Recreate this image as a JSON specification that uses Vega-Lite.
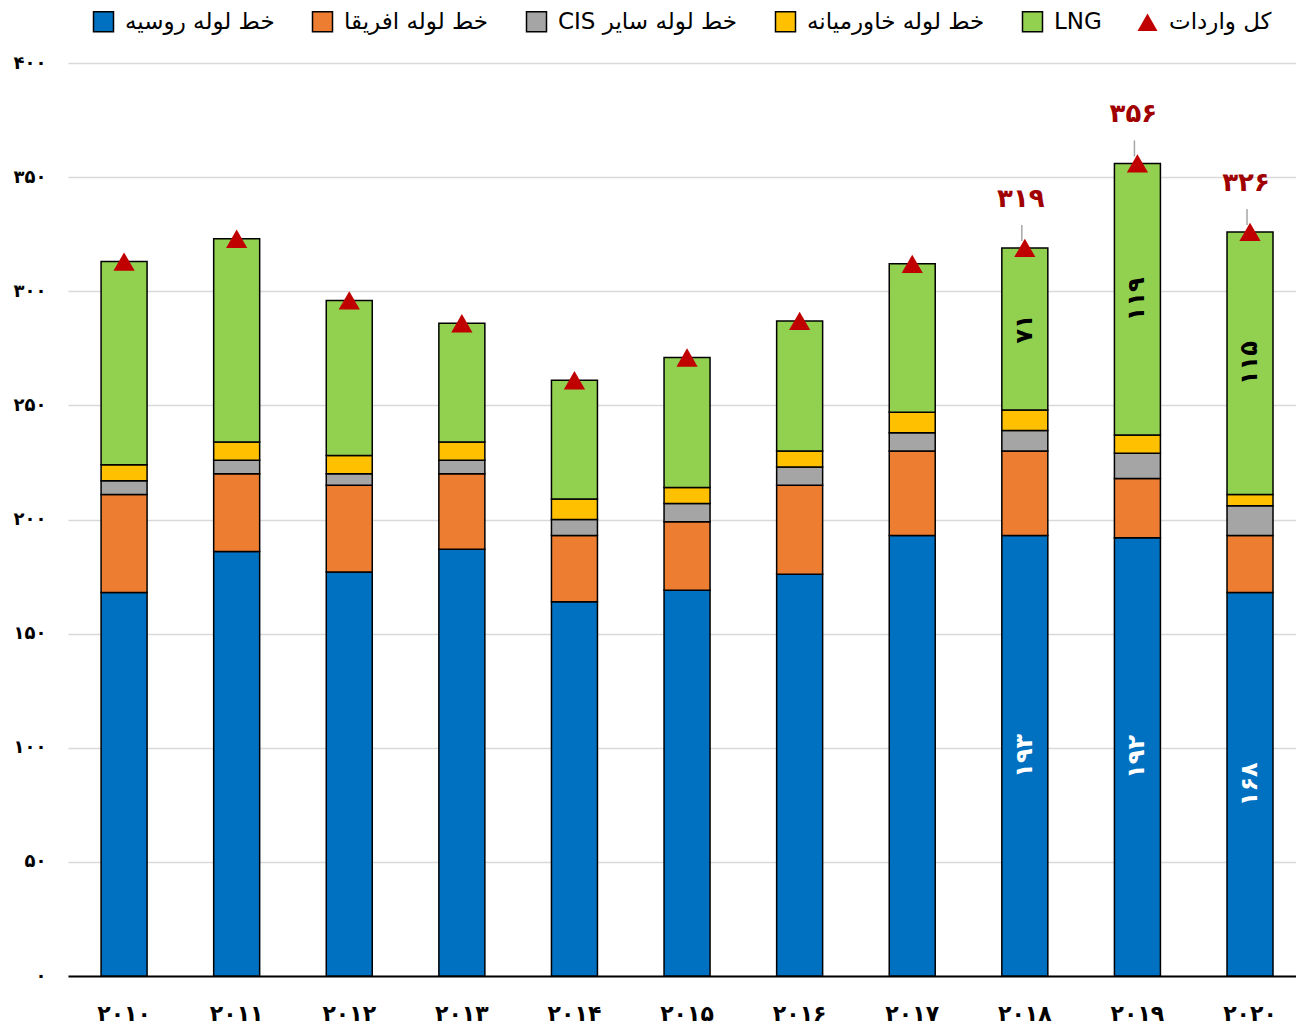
{
  "$schema": "https://vega.github.io/schema/vega-lite/v6.json",
  "width": 1228,
  "height": 913,
  "autosize": {"type": "none"},
  "padding": {"left": 68, "top": 63, "right": 0, "bottom": 52},
  "background": "white",
  "config": {
    "view": {"stroke": null},
    "font": "DejaVu Sans"
  },
  "datasets": {
    "parts": [
      {"year": "2010", "series": "خط لوله روسیه", "value": 168},
      {"year": "2010", "series": "خط لوله افریقا", "value": 43},
      {"year": "2010", "series": "خط لوله سایر CIS", "value": 6},
      {"year": "2010", "series": "خط لوله خاورمیانه", "value": 7},
      {"year": "2010", "series": "LNG", "value": 89},
      {"year": "2011", "series": "خط لوله روسیه", "value": 186},
      {"year": "2011", "series": "خط لوله افریقا", "value": 34},
      {"year": "2011", "series": "خط لوله سایر CIS", "value": 6},
      {"year": "2011", "series": "خط لوله خاورمیانه", "value": 8},
      {"year": "2011", "series": "LNG", "value": 89},
      {"year": "2012", "series": "خط لوله روسیه", "value": 177},
      {"year": "2012", "series": "خط لوله افریقا", "value": 38},
      {"year": "2012", "series": "خط لوله سایر CIS", "value": 5},
      {"year": "2012", "series": "خط لوله خاورمیانه", "value": 8},
      {"year": "2012", "series": "LNG", "value": 68},
      {"year": "2013", "series": "خط لوله روسیه", "value": 187},
      {"year": "2013", "series": "خط لوله افریقا", "value": 33},
      {"year": "2013", "series": "خط لوله سایر CIS", "value": 6},
      {"year": "2013", "series": "خط لوله خاورمیانه", "value": 8},
      {"year": "2013", "series": "LNG", "value": 52},
      {"year": "2014", "series": "خط لوله روسیه", "value": 164},
      {"year": "2014", "series": "خط لوله افریقا", "value": 29},
      {"year": "2014", "series": "خط لوله سایر CIS", "value": 7},
      {"year": "2014", "series": "خط لوله خاورمیانه", "value": 9},
      {"year": "2014", "series": "LNG", "value": 52},
      {"year": "2015", "series": "خط لوله روسیه", "value": 169},
      {"year": "2015", "series": "خط لوله افریقا", "value": 30},
      {"year": "2015", "series": "خط لوله سایر CIS", "value": 8},
      {"year": "2015", "series": "خط لوله خاورمیانه", "value": 7},
      {"year": "2015", "series": "LNG", "value": 57},
      {"year": "2016", "series": "خط لوله روسیه", "value": 176},
      {"year": "2016", "series": "خط لوله افریقا", "value": 39},
      {"year": "2016", "series": "خط لوله سایر CIS", "value": 8},
      {"year": "2016", "series": "خط لوله خاورمیانه", "value": 7},
      {"year": "2016", "series": "LNG", "value": 57},
      {"year": "2017", "series": "خط لوله روسیه", "value": 193},
      {"year": "2017", "series": "خط لوله افریقا", "value": 37},
      {"year": "2017", "series": "خط لوله سایر CIS", "value": 8},
      {"year": "2017", "series": "خط لوله خاورمیانه", "value": 9},
      {"year": "2017", "series": "LNG", "value": 65},
      {"year": "2018", "series": "خط لوله روسیه", "value": 193},
      {"year": "2018", "series": "خط لوله افریقا", "value": 37},
      {"year": "2018", "series": "خط لوله سایر CIS", "value": 9},
      {"year": "2018", "series": "خط لوله خاورمیانه", "value": 9},
      {"year": "2018", "series": "LNG", "value": 71},
      {"year": "2019", "series": "خط لوله روسیه", "value": 192},
      {"year": "2019", "series": "خط لوله افریقا", "value": 26},
      {"year": "2019", "series": "خط لوله سایر CIS", "value": 11},
      {"year": "2019", "series": "خط لوله خاورمیانه", "value": 8},
      {"year": "2019", "series": "LNG", "value": 119},
      {"year": "2020", "series": "خط لوله روسیه", "value": 168},
      {"year": "2020", "series": "خط لوله افریقا", "value": 25},
      {"year": "2020", "series": "خط لوله سایر CIS", "value": 13},
      {"year": "2020", "series": "خط لوله خاورمیانه", "value": 5},
      {"year": "2020", "series": "LNG", "value": 115}
    ],
    "totals": [
      {"year": "2010", "series": "کل واردات", "total": 313},
      {"year": "2011", "series": "کل واردات", "total": 323},
      {"year": "2012", "series": "کل واردات", "total": 296},
      {"year": "2013", "series": "کل واردات", "total": 286},
      {"year": "2014", "series": "کل واردات", "total": 261},
      {"year": "2015", "series": "کل واردات", "total": 271},
      {"year": "2016", "series": "کل واردات", "total": 287},
      {"year": "2017", "series": "کل واردات", "total": 312},
      {"year": "2018", "series": "کل واردات", "total": 319},
      {"year": "2019", "series": "کل واردات", "total": 356},
      {"year": "2020", "series": "کل واردات", "total": 326}
    ]
  },
  "encoding": {
    "x": {
      "field": "year",
      "type": "nominal",
      "scale": {"paddingInner": 0.5915, "paddingOuter": 0.249, "align": 0.59},
      "axis": {
        "title": null,
        "labelAngle": 0,
        "ticks": false,
        "domainColor": "black",
        "domainWidth": 2,
        "labelFont": "DejaVu Sans",
        "labelFontWeight": "bold",
        "labelFontSize": 22,
        "labelColor": "black",
        "labelPadding": 27,
        "labelExpr": "replace(replace(replace(replace(replace(replace(replace(replace(replace(replace(datum.label,/0/g,'۰'),/1/g,'۱'),/2/g,'۲'),/3/g,'۳'),/4/g,'۴'),/5/g,'۵'),/6/g,'۶'),/7/g,'۷'),/8/g,'۸'),/9/g,'۹')"
      }
    }
  },
  "layer": [
    {
      "data": {"name": "parts"},
      "transform": [
        {"calculate": "indexof(['خط لوله روسیه','خط لوله افریقا','خط لوله سایر CIS','خط لوله خاورمیانه','LNG'], datum.series)", "as": "ord"},
        {"stack": "value", "groupby": ["year"], "sort": [{"field": "ord", "order": "ascending"}], "as": ["y0", "y1"]}
      ],
      "mark": {"type": "bar", "stroke": "black", "strokeWidth": 1.5},
      "encoding": {
        "y": {
          "field": "y1",
          "type": "quantitative",
          "scale": {"domain": [0, 400], "nice": false},
          "axis": {
            "title": null,
            "values": [0, 50, 100, 150, 200, 250, 300, 350, 400],
            "ticks": false,
            "domain": false,
            "gridColor": "#d9d9d9",
            "gridWidth": 1.5,
            "labelFont": "DejaVu Sans",
            "labelFontWeight": "bold",
            "labelFontSize": 18,
            "labelColor": "black",
            "labelPadding": 22,
            "labelExpr": "replace(replace(replace(replace(replace(replace(replace(replace(replace(replace(datum.label,/0/g,'۰'),/1/g,'۱'),/2/g,'۲'),/3/g,'۳'),/4/g,'۴'),/5/g,'۵'),/6/g,'۶'),/7/g,'۷'),/8/g,'۸'),/9/g,'۹')"
          }
        },
        "y2": {"field": "y0"},
        "color": {
          "field": "series",
          "type": "nominal",
          "scale": {
            "domain": ["خط لوله روسیه", "خط لوله افریقا", "خط لوله سایر CIS", "خط لوله خاورمیانه", "LNG", "کل واردات"],
            "range": ["#0070C0", "#ED7D31", "#A5A5A5", "#FFC000", "#92D050", "#C00000"]
          },
          "legend": {
            "orient": "none",
            "legendX": 24,
            "legendY": -53,
            "direction": "horizontal",
            "title": null,
            "labelFont": "DejaVu Sans",
            "labelFontSize": 23,
            "labelColor": "black",
            "labelLimit": 0,
            "symbolSize": 400,
            "symbolStrokeColor": "black",
            "symbolStrokeWidth": 1.5,
            "labelOffset": 10,
            "columnPadding": 34,
            "labelExpr": "datum.label == 'خط لوله سایر CIS' ? '\u202b' + datum.label + '\u202c' : datum.label",
            "encode": {
              "symbols": {
                "update": {
                  "strokeWidth": {"signal": "datum.value === 'کل واردات' ? 0 : 1.5"}
                }
              }
            }
          }
        }
      }
    },
    {
      "data": {"name": "totals"},
      "transform": [{"filter": "datum.year >= '2018'"}],
      "mark": {"type": "rule", "color": "#a6a6a6", "strokeWidth": 1.5, "yOffset": -7, "y2Offset": -23, "xOffset": -3},
      "encoding": {
        "y": {"field": "total", "type": "quantitative"},
        "y2": {"field": "total"}
      }
    },
    {
      "data": {"name": "totals"},
      "mark": {"type": "point", "filled": true, "size": 450, "opacity": 1},
      "encoding": {
        "y": {"field": "total", "type": "quantitative"},
        "color": {"field": "series", "type": "nominal"},
        "shape": {
          "field": "series",
          "type": "nominal",
          "scale": {
            "domain": ["خط لوله روسیه", "خط لوله افریقا", "خط لوله سایر CIS", "خط لوله خاورمیانه", "LNG", "کل واردات"],
            "range": ["square", "square", "square", "square", "square", "triangle-up"]
          }
        }
      }
    },
    {
      "data": {"name": "parts"},
      "transform": [
        {"calculate": "indexof(['خط لوله روسیه','خط لوله افریقا','خط لوله سایر CIS','خط لوله خاورمیانه','LNG'], datum.series)", "as": "ord"},
        {"stack": "value", "groupby": ["year"], "sort": [{"field": "ord", "order": "ascending"}], "as": ["y0", "y1"]},
        {"filter": "datum.year >= '2018' && (datum.ord == 0 || datum.ord == 4)"},
        {"calculate": "(datum.y0 + datum.y1) / 2", "as": "mid"},
        {"calculate": "replace(replace(replace(replace(replace(replace(replace(replace(replace(replace(''+datum.value,/0/g,'۰'),/1/g,'۱'),/2/g,'۲'),/3/g,'۳'),/4/g,'۴'),/5/g,'۵'),/6/g,'۶'),/7/g,'۷'),/8/g,'۸'),/9/g,'۹')", "as": "txt"}
      ],
      "mark": {"type": "text", "angle": 270, "font": "DejaVu Sans", "fontWeight": "bold", "fontSize": 24, "baseline": "middle", "align": "center"},
      "encoding": {
        "y": {"field": "mid", "type": "quantitative"},
        "text": {"field": "txt"},
        "color": {
          "condition": {"test": "datum.ord == 0", "value": "white"},
          "value": "black"
        }
      }
    },
    {
      "data": {"name": "totals"},
      "transform": [
        {"filter": "datum.year >= '2018'"},
        {"calculate": "replace(replace(replace(replace(replace(replace(replace(replace(replace(replace(''+datum.total,/0/g,'۰'),/1/g,'۱'),/2/g,'۲'),/3/g,'۳'),/4/g,'۴'),/5/g,'۵'),/6/g,'۶'),/7/g,'۷'),/8/g,'۸'),/9/g,'۹')", "as": "txt"}
      ],
      "mark": {"type": "text", "font": "DejaVu Sans", "fontWeight": "bold", "fontSize": 26, "baseline": "middle", "align": "center", "dy": -49, "dx": -4, "color": "#A00000"},
      "encoding": {
        "y": {"field": "total", "type": "quantitative"},
        "text": {"field": "txt"}
      }
    }
  ]
}
